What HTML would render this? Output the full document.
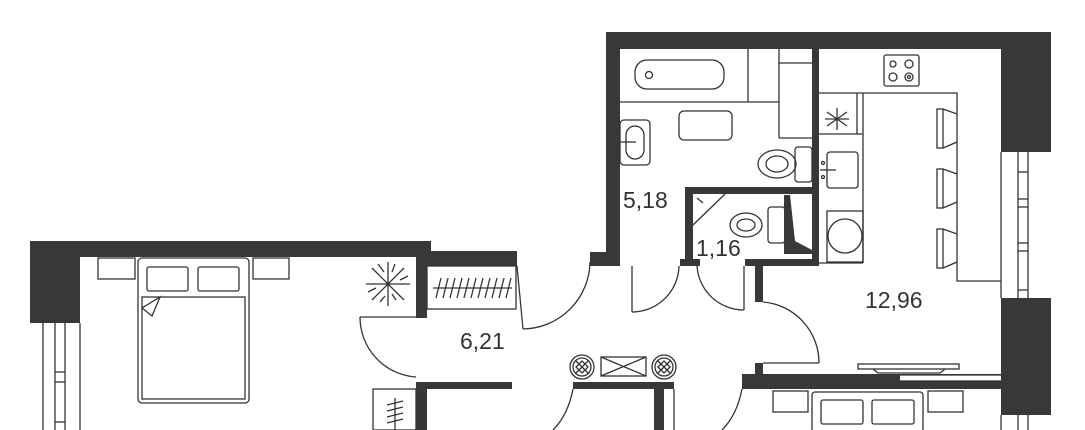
<!DOCTYPE html>
<html><head><meta charset="utf-8"><style>
html,body{margin:0;padding:0;background:#fff;}
svg{display:block}
text{font-family:"Liberation Sans","DejaVu Sans",sans-serif;fill:#333;font-size:23px}
</style></head><body>
<svg width="1085" height="430" viewBox="0 0 1085 430" xmlns="http://www.w3.org/2000/svg">
<g fill="#383838">
<rect x="606" y="32" width="445" height="17"/>
<rect x="606" y="32" width="14" height="234"/>
<rect x="590" y="252" width="30" height="14"/>
<rect x="812" y="49" width="7" height="217"/>
<rect x="685" y="187" width="134" height="7"/>
<rect x="685" y="187" width="8" height="79"/>
<rect x="680" y="259" width="20" height="7"/>
<rect x="745" y="259" width="74" height="7"/>
<rect x="755" y="259" width="8" height="43"/>
<rect x="1001" y="32" width="50" height="120"/>
<rect x="1001" y="298" width="50" height="117"/>
<rect x="755" y="363" width="8" height="20"/>
<rect x="742" y="374" width="259" height="15"/>
<rect x="30" y="241" width="401" height="16"/>
<rect x="30" y="241" width="50" height="82"/>
<rect x="416" y="241" width="11" height="77"/>
<rect x="427" y="251" width="90" height="15"/>
<rect x="416" y="382" width="11" height="48"/>
<rect x="416" y="382" width="96" height="7"/>
<rect x="573" y="382" width="101" height="7"/>
<rect x="654" y="389" width="10" height="41"/>
</g>
<rect x="900" y="375" width="101" height="6" fill="#fff"/>
<g fill="none" stroke="#333" stroke-width="1.3">
<line x1="620" y1="102" x2="779" y2="102"/>
<line x1="748" y1="49" x2="748" y2="102"/>
<line x1="779" y1="49" x2="779" y2="138"/>
<line x1="779" y1="63" x2="812" y2="63"/>
<line x1="779" y1="138" x2="812" y2="138"/>
<rect x="635" y="60" width="89" height="29" rx="12"/>
<circle cx="649" cy="75" r="3.5"/>
<rect x="679" y="111" width="53" height="29" rx="5"/>
<rect x="620" y="120" width="30" height="45" rx="4"/>
<rect x="626" y="126" width="18" height="33" rx="9"/>
<line x1="620" y1="142" x2="636" y2="142"/>
<rect x="795" y="147" width="17" height="35" rx="3"/>
<ellipse cx="777" cy="164" rx="19" ry="14"/>
<ellipse cx="777" cy="164" rx="11" ry="8"/>
<rect x="768" y="207" width="17" height="36" rx="3"/>
<ellipse cx="746" cy="225" rx="16" ry="12"/>
<ellipse cx="746" cy="225" rx="9" ry="6"/>
<line x1="693" y1="225" x2="725" y2="194"/>
<line x1="697" y1="198" x2="703" y2="203"/>
<line x1="632" y1="266" x2="632" y2="312"/>
<path d="M632 312 A47 47 0 0 0 679 266"/>
<line x1="744" y1="266" x2="744" y2="310"/>
<path d="M697 266 A47 47 0 0 0 744 310"/>
<line x1="763" y1="363" x2="819" y2="363"/>
<path d="M763 302 A61 61 0 0 1 819 363"/>
<line x1="517" y1="266" x2="523" y2="329"/>
<path d="M523 329 A68 68 0 0 0 590 262"/>
<line x1="360" y1="317" x2="416" y2="317"/>
<path d="M360 317 A60 60 0 0 0 416 377"/>
<path d="M573 389 Q568 415 553 430"/>
<path d="M742 389 Q737 415 722 430"/>
<line x1="674" y1="389" x2="674" y2="430"/>
<rect x="884" y="55" width="35" height="31" rx="2"/>
<circle cx="893" cy="64" r="3"/><circle cx="909" cy="64" r="4"/>
<circle cx="893" cy="77" r="4"/><circle cx="909" cy="77" r="4"/><circle cx="909" cy="77" r="1.5"/>
<polyline points="819,93 957,93 957,281 1001,281"/>
<line x1="863" y1="93" x2="863" y2="263"/>
<line x1="857" y1="93" x2="857" y2="134"/>
<line x1="819" y1="134" x2="863" y2="134"/>
<line x1="819" y1="263" x2="863" y2="263"/>
<path d="M827 112 L847 126 M827 126 L847 112 M837 108 L837 130 M825 119 L849 119"/>
<rect x="827" y="152" width="31" height="36" rx="3"/>
<line x1="820" y1="170" x2="836" y2="170"/>
<circle cx="823" cy="163" r="1.5"/><circle cx="823" cy="177" r="1.5"/>
<rect x="827" y="211" width="36" height="51"/>
<circle cx="845" cy="236" r="17"/>
<rect x="937" y="109" width="6" height="39"/><path d="M943 109 L957 114 M943 148 L957 142"/>
<rect x="937" y="169" width="6" height="39"/><path d="M943 169 L957 174 M943 208 L957 202"/>
<rect x="937" y="229" width="6" height="39"/><path d="M943 229 L957 234 M943 268 L957 262"/>
<rect x="858" y="364" width="101" height="5"/>
<path d="M873 369 L878 373 L940 373 L945 369"/>
<line x1="900" y1="375" x2="1001" y2="375"/>
<line x1="900" y1="381" x2="1001" y2="381"/>
<line x1="1001" y1="152" x2="1001" y2="298"/>
<line x1="1018" y1="152" x2="1018" y2="298"/>
<line x1="1028" y1="152" x2="1028" y2="298"/>
<line x1="1018" y1="172" x2="1028" y2="172"/><line x1="1018" y1="199" x2="1028" y2="199"/>
<line x1="1018" y1="207" x2="1028" y2="207"/><line x1="1018" y1="243" x2="1028" y2="243"/>
<line x1="1018" y1="251" x2="1028" y2="251"/><line x1="1018" y1="290" x2="1028" y2="290"/>
<line x1="1001" y1="415" x2="1001" y2="430"/><line x1="1018" y1="415" x2="1018" y2="430"/><line x1="1028" y1="415" x2="1028" y2="430"/>
<rect x="773" y="391" width="35" height="21"/>
<rect x="812" y="392" width="111" height="40" rx="3"/>
<rect x="821" y="400" width="42" height="24" rx="2"/>
<rect x="872" y="400" width="42" height="24" rx="2"/>
<rect x="928" y="391" width="35" height="21"/>
<circle cx="582" cy="367" r="12"/><circle cx="582" cy="367" r="9"/>
<path d="M576 361 L588 373 M588 361 L576 373 M576 367 L582 361 L588 367 L582 373 Z"/>
<circle cx="664" cy="367" r="12"/><circle cx="664" cy="367" r="9"/>
<path d="M658 361 L670 373 M670 361 L658 373 M658 367 L664 361 L670 367 L664 373 Z"/>
<rect x="601" y="357" width="45" height="19"/>
<path d="M601 357 L646 376 M646 357 L601 376"/>
<rect x="427" y="266" width="89" height="43"/>
<line x1="433" y1="288" x2="512" y2="288"/>
<path d="M436 298 L441 278 M443 298 L448 278 M450 298 L455 278 M457 298 L462 278 M464 298 L469 278 M471 298 L476 278 M478 298 L483 278 M485 298 L490 278 M492 298 L497 278 M499 298 L504 278 M506 298 L511 278"/>
<rect x="138" y="258" width="111" height="145" rx="4"/>
<rect x="142" y="297" width="103" height="102"/>
<rect x="147" y="267" width="41" height="24" rx="2"/>
<rect x="198" y="267" width="41" height="24" rx="2"/>
<path d="M160 297 L142 308 L152 316 Z"/>
<rect x="98" y="258" width="37" height="21"/>
<rect x="253" y="258" width="36" height="21"/>
<path d="M388 262 L388 306 M366 284 L410 284 M372 268 L404 300 M404 268 L372 300 M378 264 L384 272 M396 300 L392 294 M368 292 L376 288 M408 276 L400 280 M380 302 L385 296 M395 264 L392 272"/>
<line x1="43" y1="323" x2="43" y2="430"/><line x1="55" y1="323" x2="55" y2="430"/>
<line x1="65" y1="323" x2="65" y2="430"/><line x1="80" y1="323" x2="80" y2="430"/>
<line x1="55" y1="372" x2="65" y2="372"/><line x1="55" y1="382" x2="65" y2="382"/><line x1="55" y1="422" x2="65" y2="422"/>
<rect x="373" y="389" width="43" height="41"/>
<line x1="395" y1="398" x2="395" y2="430"/>
<path d="M387 405 L403 401 M387 411 L403 407 M387 417 L403 413 M387 423 L403 419"/>
</g>
<path d="M784 195 L790 195 L795 241 L812 250 L812 254 L784 254 Z" fill="#383838"/>
<text x="623" y="208">5,18</text>
<text x="696" y="256">1,16</text>
<text x="865" y="308">12,96</text>
<text x="460" y="349">6,21</text>
</svg>
</body></html>
